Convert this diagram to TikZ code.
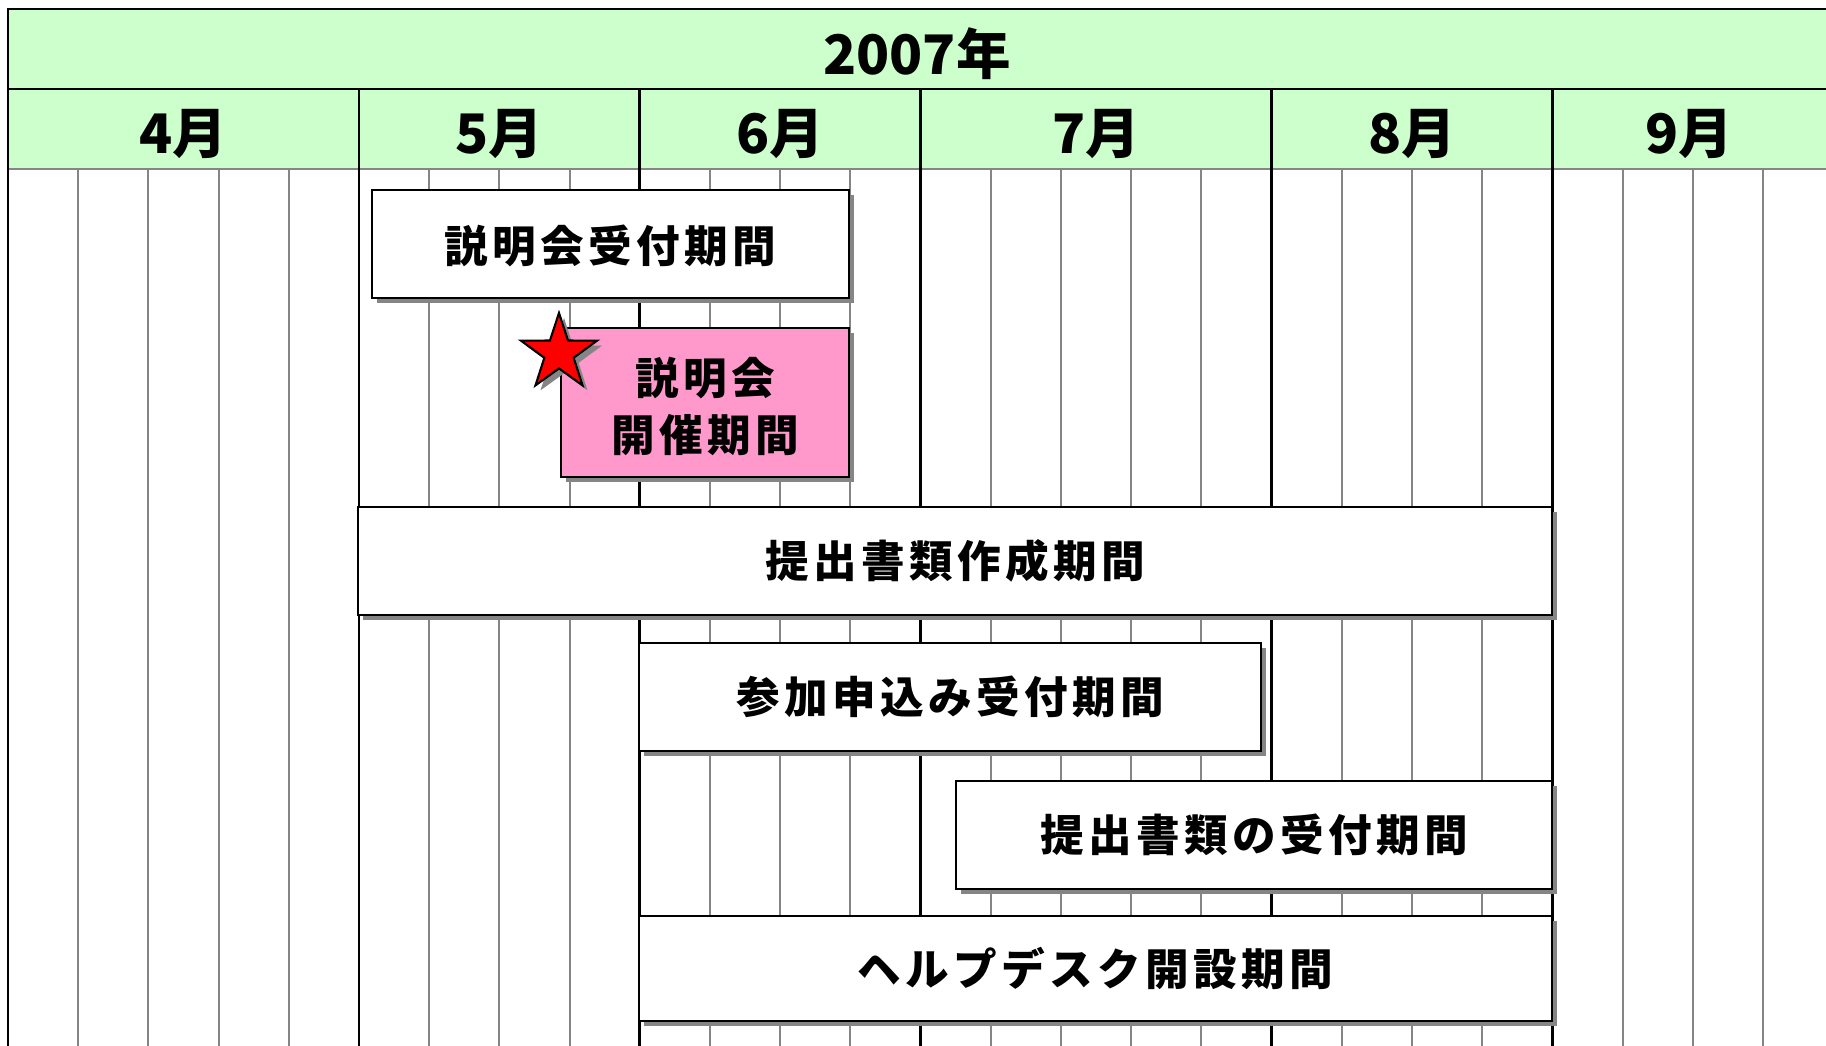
\documentclass[tikz,border=0pt]{standalone}
\usepackage{fontspec}
\newfontfamily\jpfont{Noto Sans CJK JP}
\newfontfamily\jpwide{Noto Sans CJK JP}[LetterSpace=10]
\usepackage{xcolor}
\usetikzlibrary{shapes.geometric,shadows,fit}

\definecolor{headgreen}{HTML}{CCFFCC}
\definecolor{eventpink}{HTML}{FF99CC}
\definecolor{gridgray}{HTML}{858585}

\begin{document}
\begin{tikzpicture}[
    x=0.01cm, y=-0.01cm,
    month/.style={font=\jpfont\bfseries\fontsize{15.5}{18}\selectfont, inner sep=0pt},
    bartext/.style={font=\jpwide\bfseries\fontsize{12.4}{16}\selectfont, align=center, inner sep=0pt},
    bar/.style={rectangle, draw=black, fill=#1, line width=0.6pt, inner sep=0pt,
        drop shadow={shadow xshift=0.05cm, shadow yshift=-0.05cm, fill=gridgray, opacity=1}},
    bar/.default=white,
    weekline/.style={draw=gridgray, line width=0.55pt},
    monthline/.style={draw=black, line width=0.8pt}
]
    \useasboundingbox (0,0) rectangle (1826,1046);

    % header rows
    \fill[headgreen] (8,9) rectangle (1826,169);
    \draw[weekline] (8,169) -- (1826,169);

    % week grid, then month boundaries on top
    \foreach \k in {1,2,3,4,6,7,8,10,11,12,14,15,16,17,19,20,21,23,24,25}
        \draw[weekline] ({8+70.2*\k},169) -- ({8+70.2*\k},1046);
    \foreach \k in {5,9,13,18,22}
        \draw[monthline] ({8+70.2*\k},89) -- ({8+70.2*\k},1046);
    \draw[monthline] (1826,9) -- (8,9) -- (8,1046);
    \draw[monthline] (8,89) -- (1826,89);

    \node[month] (year) at (917,54) {2007年};
    \node[month] (apr) at (183.5,134) {4月};
    \node[month] (may) at (499.5,134) {5月};
    \node[month] (jun) at (780,134) {6月};
    \node[month] (jul) at (1096,134) {7月};
    \node[month] (aug) at (1412,134) {8月};
    \node[month] (sep) at (1689,134) {9月};

    % periods
    \node[bar, fit={(372,190) (849,298)}] (entry) {};
    \node[bar=eventpink, fit={(561,328) (849,477)}] (session) {};
    \node[bar, fit={(358,507) (1552,615)}] (docs) {};
    \node[bar, fit={(639,643) (1261,751)}] (apply) {};
    \node[bar, fit={(956,781) (1552,889)}] (submit) {};
    \node[bar, fit={(639,916) (1552,1021)}] (help) {};

    \node[bartext] (entrytxt) at ([yshift=-0.02cm]entry.center) {説明会受付期間};
    \node[bartext] (sessiontxt) at ([yshift=-0.04cm]session.center) {説明会\\開催期間};
    \node[bartext] (docstxt) at (docs.center) {提出書類作成期間};
    \node[bartext] (applytxt) at (apply.center) {参加申込み受付期間};
    \node[bartext] (submittxt) at (submit.center) {提出書類の受付期間};
    \node[bartext] (helptxt) at (help.center) {ヘルプデスク開設期間};

    \node[star, star points=5, star point ratio=2.6, minimum size=0.8cm, inner sep=0pt,
        draw=black, line width=0.6pt, fill=red,
        drop shadow={shadow xshift=0.05cm, shadow yshift=-0.05cm, fill=gridgray, opacity=1}] (mark) at (559,353) {};
\end{tikzpicture}
\end{document}
